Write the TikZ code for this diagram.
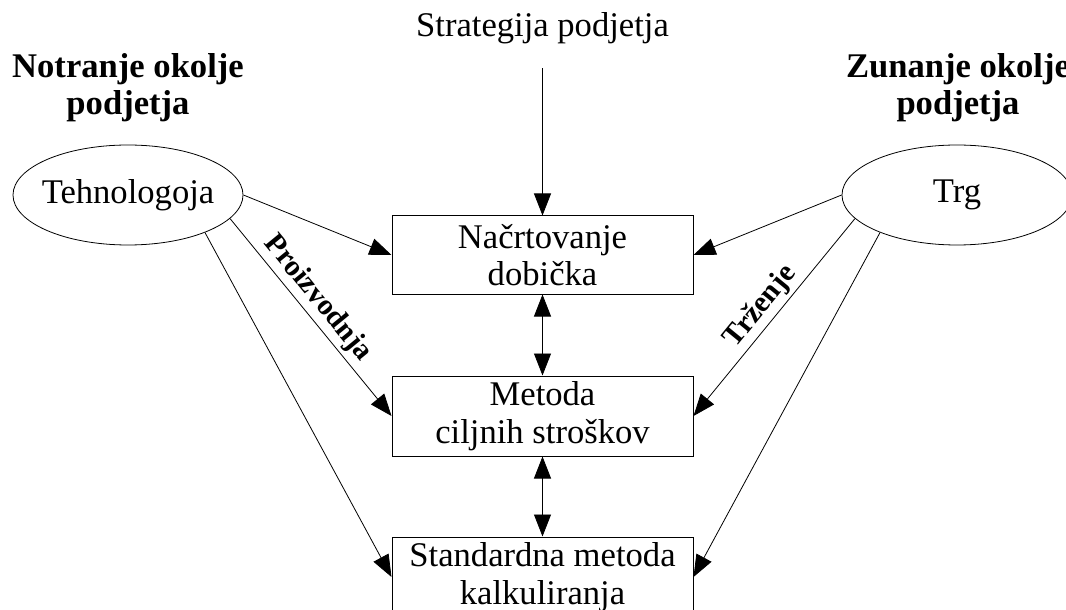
\documentclass[tikz,border=0pt]{standalone}
\usepackage{fontspec}
\setmainfont{Liberation Serif}
\usetikzlibrary{arrows.meta,shapes.geometric}
\begin{document}
\begin{tikzpicture}[x=1bp,y=-1bp,
  txt/.style={font=\fontsize{34.6bp}{37.5bp}\selectfont},
  stagebox/.style={txt, draw, line width=1bp, minimum width=301bp, minimum height=80bp, inner sep=0pt, align=center},
  envell/.style={txt, draw, ellipse, line width=0.8bp, minimum width=230bp, minimum height=100bp, inner sep=0pt},
  heading/.style={font=\fontsize{34.6bp}{37bp}\selectfont\bfseries, align=center, inner sep=0pt},
  tip/.tip={Triangle[length=22bp,width=17bp]},
  link/.style={line width=0.8bp, -tip},
  both/.style={line width=0.8bp, tip-tip},
  lbl/.style={font=\fontsize{29.5bp}{31bp}\selectfont\bfseries, sloped, above, inner sep=3.5bp}
]
\useasboundingbox (0,0) rectangle (1066,610);

% headings of the two environments
\node[heading] (inner) at (128,87.5) {Notranje okolje\\podjetja};
\node[heading] (outer) at (958,87.5) {Zunanje okolje\\podjetja};

% company strategy on top
\node[txt, inner sep=0pt, anchor=base] (strat) at (542.5,37) {Strategija podjetja};

% environment factors (text boxed to zero width so the ellipse keeps its size)
\node[envell] (tech) at (128,195) {\makebox[0pt]{Tehnologoja}};
\node[envell] (trg) at (957,195) {\makebox[0pt]{Trg}};

% planning stages
\node[stagebox, minimum height=78bp] (b1) at (542.5,255) {Načrtovanje\\dobička};
\node[stagebox] (b2) at (542.5,416) {Metoda\\ciljnih stroškov};
\node[stagebox] (b3) at (542.5,577) {Standardna metoda\\kalkuliranja};

% connectors
\draw[link, shorten <=23.5bp] (strat) -- (b1);
\draw[both] (b1) -- (b2);
\draw[both] (b2) -- (b3);

\draw[link] (tech.east) -- (b1.west);
\draw[link] (tech.-13) -- (b2.west) node[lbl, pos=0.46] {Proizvodnja};
\draw[link] (tech.-26) -- (b3.west);

\draw[link] (trg.west) -- (b1.east);
\draw[link] (trg.193) -- (b2.east) node[lbl, pos=0.5] {Trženje};
\draw[link] (trg.206) -- (b3.east);
\end{tikzpicture}
\end{document}
